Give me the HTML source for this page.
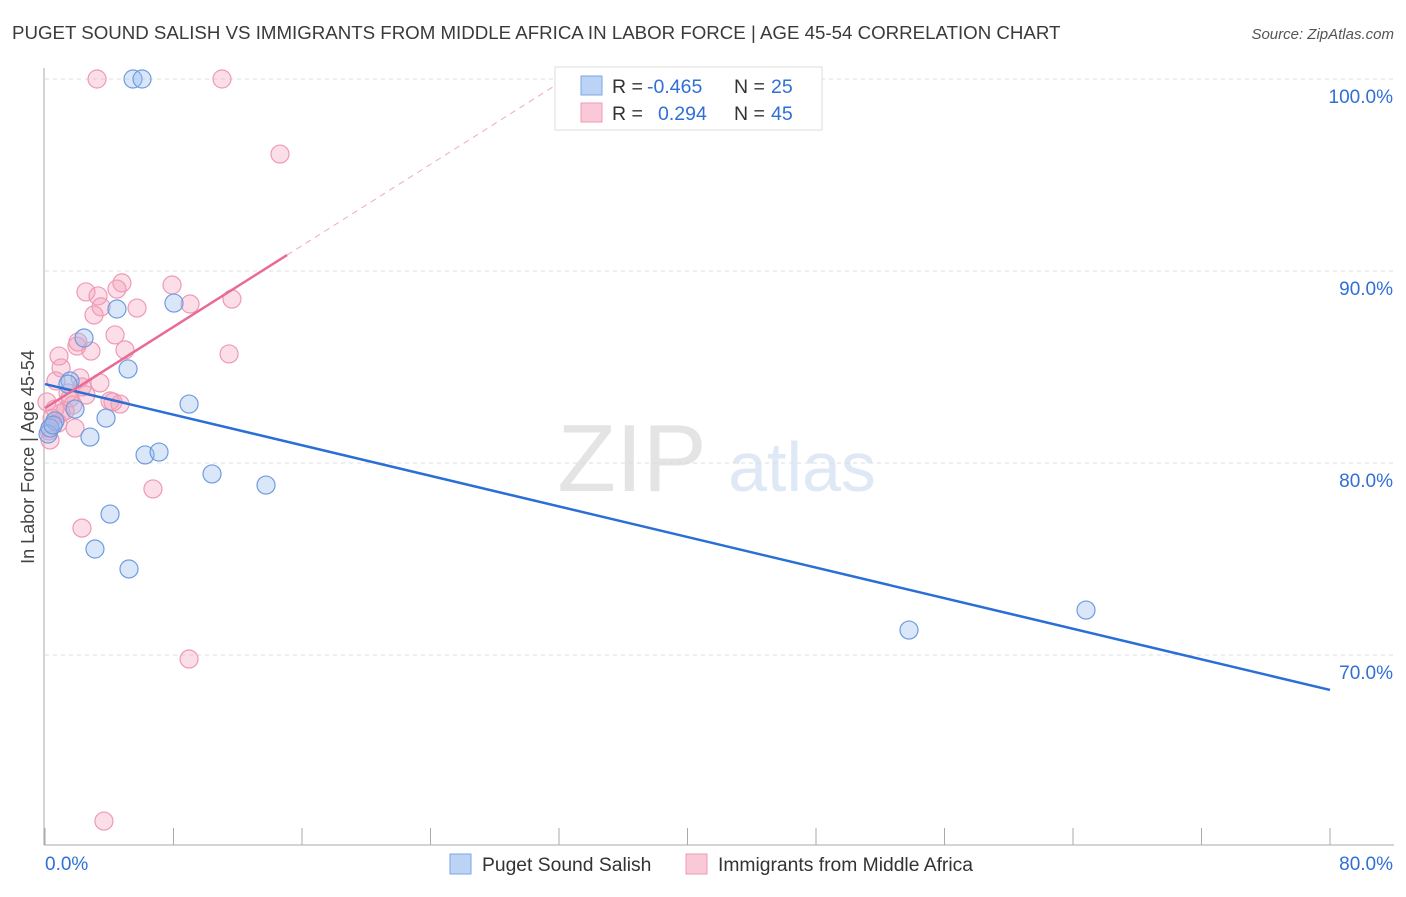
<!DOCTYPE html>
<html><head><meta charset="utf-8"><style>
body{margin:0;background:#fff;font-family:"Liberation Sans",sans-serif;}
svg text{font-family:"Liberation Sans",sans-serif;}
</style></head><body>
<svg id="chart" width="1406" height="892" xmlns="http://www.w3.org/2000/svg">
<text x="12" y="39" font-size="18.7" fill="#3a3a3a">PUGET SOUND SALISH VS IMMIGRANTS FROM MIDDLE AFRICA IN LABOR FORCE | AGE 45-54 CORRELATION CHART</text>
<text x="1394" y="39" font-size="15" fill="#555" text-anchor="end" font-style="italic">Source: ZipAtlas.com</text>
<g>
<text x="632" y="491" font-size="96" fill="#e4e4e4" text-anchor="middle" font-family="Liberation Serif">ZIP</text>
<text x="802" y="491" font-size="70" fill="#dfe8f5" text-anchor="middle">atlas</text>
</g>
<g id="grid"></g>
<g id="axes"></g>
<g id="marks"></g>
<text transform="translate(34,457) rotate(-90)" font-size="18" fill="#444" text-anchor="middle">In Labor Force | Age 45-54</text>
<g>
<rect x="555" y="67" width="267" height="63" fill="#fff" stroke="#ddd"/>
<rect x="581" y="76" width="21" height="19" fill="#bcd3f5" stroke="#7aa6e6"/>
<rect x="581" y="103" width="21" height="19" fill="#f9c9d7" stroke="#ee9ab5"/>
<text x="612" y="93" font-size="19.5" fill="#333">R = </text><text x="647" y="93" font-size="19.5" fill="#2f6fd6">-0.465</text>
<text x="734" y="93" font-size="19.5" fill="#333">N = </text><text x="771" y="93" font-size="19.5" fill="#2f6fd6">25</text>
<text x="612" y="120" font-size="19.5" fill="#333">R = </text><text x="658" y="120" font-size="19.5" fill="#2f6fd6">0.294</text>
<text x="734" y="120" font-size="19.5" fill="#333">N = </text><text x="771" y="120" font-size="19.5" fill="#2f6fd6">45</text>
</g>
<g>
<rect x="450" y="854" width="21" height="20" fill="#bcd3f5" stroke="#7aa6e6"/>
<text x="482" y="871" font-size="19.3" fill="#333">Puget Sound Salish</text>
<rect x="686" y="854" width="21" height="20" fill="#f9c9d7" stroke="#ee9ab5"/>
<text x="718" y="871" font-size="19.3" fill="#333">Immigrants from Middle Africa</text>
</g>
</svg>
<script>
const yTicks=[100,90,80,70];
const yTickLabels=["100.0%","90.0%","80.0%","70.0%"];
const xTicks=[0,8,16,24,32,40,48,56,64,72,80];
const blueX=[5.48,6.04,8.03,4.48,2.43,5.17,1.56,8.97,1.87,3.80,0.62,0.19,2.80,6.23,7.10,10.40,13.76,4.05,3.11,5.23,53.79,64.81,0.31,1.43,0.50];
const blueY=[100,100,88.33,88.02,86.51,84.9,84.27,83.07,82.81,82.34,82.19,81.51,81.35,80.42,80.57,79.43,78.85,77.34,75.52,74.48,71.30,72.34,81.82,84.11,81.98];
const pinkX=[3.24,11.02,14.63,4.79,7.91,2.55,3.30,4.48,9.03,11.64,5.73,3.49,3.05,4.36,1.99,2.86,4.98,11.46,0.87,1.00,2.18,0.68,3.42,2.30,1.43,2.55,4.05,4.67,4.23,1.74,1.00,1.25,0.44,0.81,1.87,0.25,6.72,2.30,8.97,3.67,0.12,1.56,0.62,2.05,0.31];
const pinkY=[100,100,96.09,89.38,89.27,88.91,88.70,89.06,88.28,88.54,88.07,88.13,87.71,86.67,86.09,85.83,85.89,85.68,85.57,84.95,84.43,84.27,84.17,83.96,83.65,83.54,83.23,83.07,83.18,83.02,82.60,82.71,82.34,82.08,81.82,81.67,78.65,76.61,69.79,61.35,83.18,83.39,82.81,86.30,81.20];
const blueTrend=[84.11,68.18];
const pinkTrend=[82.86,0.529];
const NS="http://www.w3.org/2000/svg";
const X=v=>45+v*1285/80, Y=v=>79+(100-v)*19.2;
function mk(tag,attrs,parent){const e=document.createElementNS(NS,tag);for(const k in attrs)e.setAttribute(k,attrs[k]);document.getElementById(parent).appendChild(e);return e;}
yTicks.forEach((t,i)=>{
 const l=mk('line',{x1:45,x2:1394,y1:Y(t),y2:Y(t),stroke:'#ddd','stroke-dasharray':'4,4'},'grid');
 
 
 const tx=mk('text',{x:1393,y:Y(t)+24,'font-size':19,fill:'#2f6fd6','text-anchor':'end'},'axes');tx.textContent=yTickLabels[i];
 
 
});
const ya=mk('line',{x1:44,x2:44,y1:68,y2:845,stroke:'#aaa'},'axes');


const xa=mk('line',{x1:44,x2:1394,y1:845,y2:845,stroke:'#aaa'},'axes');


xTicks.forEach(t=>{
 const l=mk('line',{x1:X(t),x2:X(t),y1:828,y2:845,stroke:'#aaa'},'axes');
 
 
});
const xl0=mk('text',{x:45,y:870,'font-size':19,fill:'#2f6fd6'},'axes');xl0.textContent='0.0%';


const xl1=mk('text',{x:1393,y:870,'font-size':19,fill:'#2f6fd6','text-anchor':'end'},'axes');xl1.textContent='80.0%';


pinkX.forEach((v,i)=>{
 const c=mk('circle',{cx:X(v),cy:Y(pinkY[i]),r:9,fill:'rgba(244,160,187,0.35)',stroke:'#ee9ab5','stroke-width':1.2},'marks');
 
 
});
blueX.forEach((v,i)=>{
 const c=mk('circle',{cx:X(v),cy:Y(blueY[i]),r:9,fill:'rgba(150,185,238,0.35)',stroke:'#6f9be0','stroke-width':1.2},'marks');
 
 
});
const bt=mk('line',{x1:X(0),y1:Y(blueTrend[0]),x2:X(80),y2:Y(blueTrend[1]),stroke:'#2a6fd6','stroke-width':2.5},'marks');


const pe=15.07, pd=(100-pinkTrend[0])/pinkTrend[1];
const pt=mk('line',{x1:X(0),y1:Y(pinkTrend[0]),x2:X(pe),y2:Y(pinkTrend[0]+pinkTrend[1]*pe),stroke:'#e86a95','stroke-width':2.5},'marks');


const pdl=mk('line',{x1:X(pe),y1:Y(pinkTrend[0]+pinkTrend[1]*pe),x2:X(pd),y2:Y(100),stroke:'#f0a8c0','stroke-width':1,'stroke-dasharray':'6,5'},'marks');


</script>
</body></html>
